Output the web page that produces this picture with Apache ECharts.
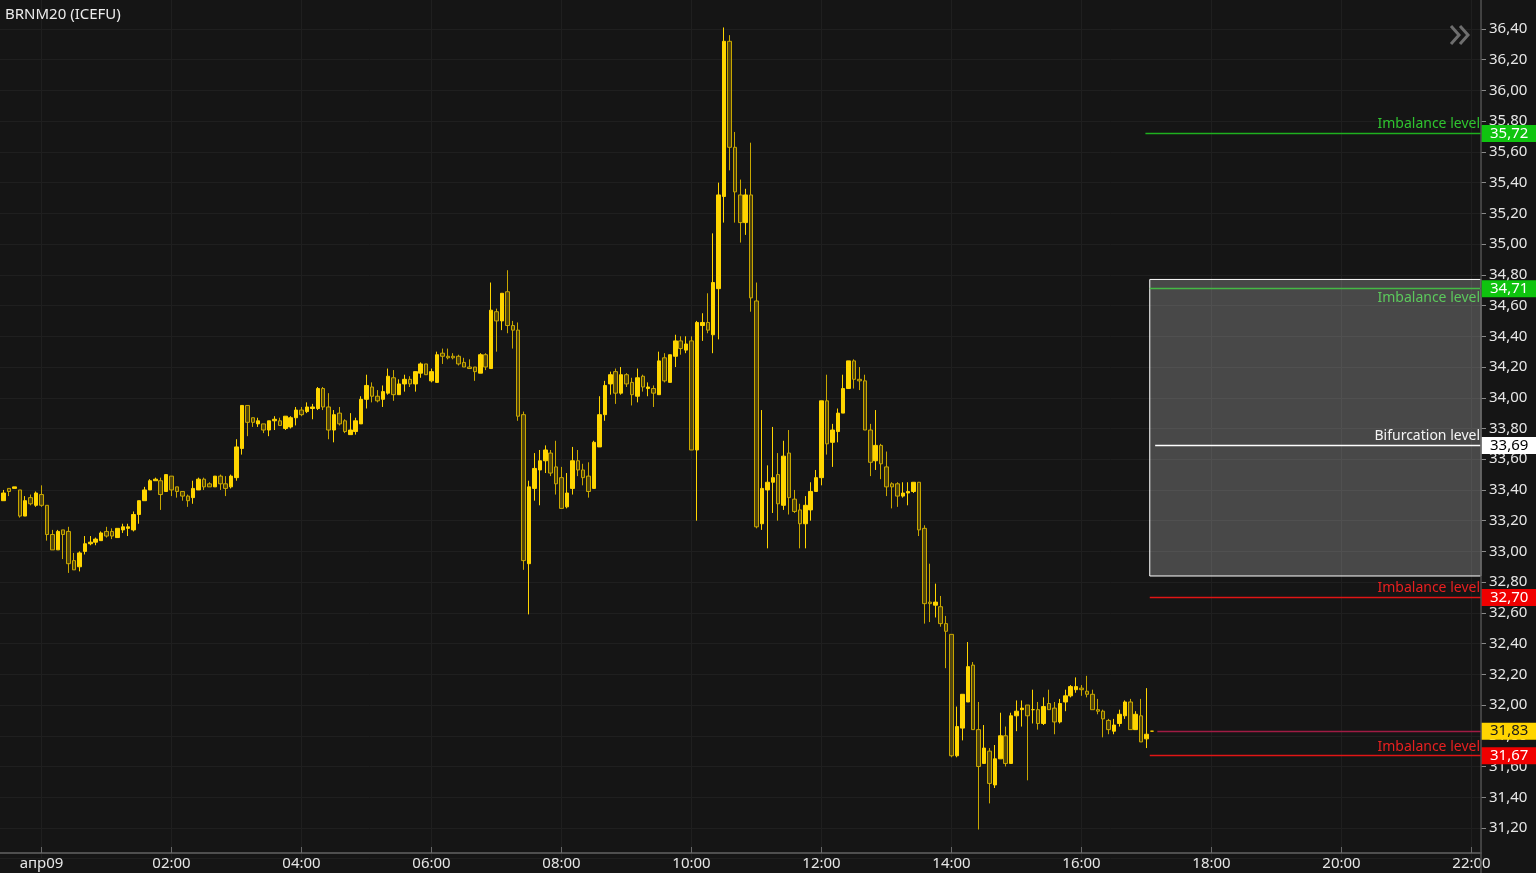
<!DOCTYPE html>
<html><head><meta charset="utf-8">
<script src="https://cdn.jsdelivr.net/npm/echarts@6/dist/echarts.min.js"></script>
<style>html,body{margin:0;padding:0;background:#151515;overflow:hidden}#c{width:1536px;height:873px}</style>
</head><body><div id="c"></div>
<script>
// ---- data ----
const title = 'BRNM20 (ICEFU)';
const firstBar = '-00:35';          // first 5-minute bar: 23:25 of the previous day
const barMinutes = 5;
const open = [33.33,33.41,33.41,33.40,33.23,33.35,33.30,33.37,33.30,33.11,33.01,33.14,33.13,32.94,32.90,33.00,33.05,33.06,33.07,33.13,33.13,33.09,33.14,33.15,33.14,33.24,33.33,33.40,33.46,33.46,33.39,33.49,33.42,33.39,33.36,33.35,33.40,33.47,33.44,33.42,33.49,33.44,33.42,33.48,33.67,33.95,33.87,33.83,33.83,33.79,33.85,33.85,33.80,33.81,33.87,33.92,33.91,33.93,33.93,34.06,33.94,33.79,33.90,33.85,33.76,33.78,33.83,33.99,34.07,34.01,33.99,34.03,34.13,34.02,34.09,34.12,34.09,34.16,34.22,34.11,34.10,34.29,34.27,34.27,34.27,34.23,34.20,34.20,34.16,34.28,34.19,34.56,34.50,34.69,34.47,34.44,33.89,32.92,33.41,33.53,33.59,33.64,33.55,33.48,33.29,33.41,33.59,33.53,33.49,33.41,33.68,33.89,34.09,34.17,34.03,34.15,34.10,34.01,34.14,34.06,34.06,34.02,34.26,34.10,34.27,34.37,34.31,34.37,33.66,34.47,34.49,34.41,34.71,35.31,36.32,35.63,35.32,35.14,35.32,34.63,33.18,33.40,33.45,33.50,33.30,33.64,33.34,33.27,33.18,33.27,33.39,33.48,33.98,33.71,33.78,33.90,34.06,34.24,34.12,34.11,33.79,33.59,33.69,33.55,33.44,33.44,33.36,33.38,33.39,33.45,33.15,32.67,32.65,32.64,32.53,32.46,31.67,31.85,32.02,32.26,31.84,31.62,31.70,31.48,31.65,31.80,31.62,31.93,31.97,32.00,31.97,31.97,31.88,32.01,31.98,31.89,32.02,32.06,32.10,32.11,32.09,32.07,31.97,31.96,31.90,31.83,31.88,31.93,32.02,31.84,31.93,31.78,31.83];
const close = [33.38,33.39,33.42,33.23,33.33,33.31,33.38,33.30,33.11,33.01,33.13,33.11,32.92,32.88,32.99,33.05,33.06,33.08,33.12,33.10,33.10,33.15,33.16,33.16,33.24,33.33,33.40,33.46,33.47,33.37,33.50,33.40,33.39,33.36,33.33,33.41,33.47,33.42,33.42,33.49,33.44,33.41,33.49,33.68,33.95,33.84,33.84,33.85,33.79,33.85,33.86,33.82,33.88,33.87,33.92,33.89,33.94,33.94,34.06,33.94,33.79,33.89,33.83,33.78,33.79,33.85,33.99,34.08,34.01,33.98,34.04,34.14,34.02,34.09,34.12,34.09,34.17,34.22,34.15,34.17,34.28,34.27,34.26,34.26,34.22,34.20,34.19,34.17,34.28,34.20,34.57,34.50,34.68,34.47,34.44,33.88,32.94,33.42,33.54,33.59,33.66,33.51,33.44,33.28,33.38,33.59,33.53,33.48,33.39,33.71,33.89,34.08,34.15,34.03,34.15,34.09,34.02,34.13,34.07,34.07,34.03,34.24,34.11,34.28,34.37,34.32,34.35,33.66,34.49,34.49,34.44,34.75,35.32,36.32,35.63,35.34,35.14,35.32,34.65,33.16,33.41,33.45,33.48,33.31,33.62,33.35,33.26,33.18,33.30,33.39,33.48,33.98,33.70,33.79,33.90,34.06,34.24,34.12,34.11,33.79,33.58,33.69,33.57,33.42,33.42,33.36,33.38,33.39,33.45,33.14,32.66,32.66,32.67,32.53,32.48,31.67,31.86,32.07,32.25,31.84,31.60,31.72,31.49,31.65,31.80,31.62,31.93,31.96,31.98,31.93,31.97,31.88,31.99,31.97,31.89,32.01,32.06,32.12,32.12,32.10,32.07,31.97,31.96,31.91,31.84,31.87,31.94,32.02,31.84,31.94,31.76,31.81,31.83];
const high = [33.40,33.41,33.42,33.40,33.36,33.37,33.39,33.43,33.30,33.14,33.14,33.14,33.16,32.99,33.00,33.10,33.10,33.09,33.13,33.16,33.15,33.15,33.18,33.18,33.26,33.33,33.42,33.47,33.48,33.48,33.50,33.49,33.42,33.39,33.37,33.46,33.48,33.48,33.45,33.49,33.50,33.49,33.50,33.73,33.95,33.95,33.87,33.87,33.83,33.85,33.88,33.87,33.88,33.88,33.94,33.94,33.97,33.96,34.07,34.07,34.03,33.92,33.94,33.86,33.90,33.87,34.01,34.15,34.10,34.05,34.08,34.19,34.18,34.12,34.15,34.14,34.17,34.23,34.22,34.19,34.30,34.32,34.32,34.29,34.28,34.26,34.25,34.20,34.29,34.29,34.75,34.58,34.68,34.83,34.50,34.49,33.91,33.46,33.64,33.66,33.69,33.66,33.72,33.55,33.51,33.68,33.66,33.57,33.58,33.72,34.01,34.11,34.17,34.19,34.20,34.16,34.13,34.19,34.15,34.10,34.08,34.30,34.29,34.28,34.41,34.40,34.40,34.40,34.50,34.55,34.68,35.07,35.40,36.41,36.36,35.73,35.42,35.36,35.66,34.75,33.92,33.56,33.81,33.64,33.72,33.79,33.40,33.31,33.36,33.45,33.53,33.98,34.15,33.83,33.93,34.15,34.24,34.25,34.20,34.15,33.83,33.92,33.70,33.65,33.45,33.45,33.45,33.45,33.45,33.45,33.17,32.92,32.79,32.71,32.58,32.46,31.99,32.07,32.41,32.28,32.02,31.87,31.72,31.74,31.95,31.86,31.95,32.03,32.03,32.00,32.10,32.02,32.05,32.10,32.02,32.04,32.10,32.13,32.18,32.13,32.19,32.10,32.04,31.97,31.91,31.91,31.97,32.03,32.04,31.96,32.04,32.11,31.83];
const low = [33.33,33.36,33.41,33.22,33.23,33.30,33.29,33.29,33.07,33.01,33.01,32.95,32.86,32.88,32.87,32.98,33.04,33.04,33.07,33.09,33.08,33.09,33.12,33.10,33.13,33.18,33.33,33.40,33.46,33.27,33.39,33.36,33.35,33.33,33.29,33.31,33.40,33.40,33.42,33.42,33.40,33.36,33.41,33.46,33.63,33.75,33.81,33.81,33.77,33.75,33.79,33.82,33.79,33.80,33.82,33.88,33.90,33.86,33.92,33.92,33.73,33.71,33.82,33.77,33.76,33.76,33.83,33.93,33.97,33.97,33.94,34.02,33.98,34.02,34.04,34.07,34.04,34.13,34.15,34.10,34.10,34.22,34.25,34.25,34.21,34.20,34.19,34.11,34.16,34.18,34.19,34.30,34.44,34.42,34.32,33.85,32.88,32.59,33.33,33.30,33.51,33.49,33.37,33.28,33.28,33.37,33.49,33.43,33.35,33.41,33.68,33.85,34.02,33.96,34.02,34.07,33.95,33.97,34.04,34.01,33.94,34.02,34.10,34.10,34.20,34.28,34.29,33.66,33.20,34.37,34.42,34.29,34.38,35.14,35.48,35.14,35.01,35.06,34.56,33.15,33.14,33.02,33.25,33.20,33.27,33.24,33.25,33.02,33.02,33.20,33.39,33.43,33.63,33.55,33.71,33.90,34.06,34.06,34.05,33.79,33.49,33.53,33.47,33.36,33.28,33.29,33.35,33.30,33.38,33.10,32.53,32.54,32.57,32.51,32.24,31.66,31.66,31.77,32.02,31.84,31.19,31.62,31.36,31.46,31.65,31.60,31.62,31.83,31.86,31.51,31.88,31.84,31.87,31.97,31.81,31.88,31.96,32.05,32.08,32.06,32.05,31.97,31.94,31.79,31.81,31.81,31.86,31.91,31.84,31.84,31.76,31.72,31.83];

const levelValues = [35.72, 34.71, 33.69, 32.70, 31.67];
const levelNames  = ['Imbalance level', 'Imbalance level', 'Bifurcation level', 'Imbalance level', 'Imbalance level'];
const levelStart  = ['16:59', '17:03', '17:08', '17:03', '17:03'];
const lastPrice = 31.83;
const lastPriceStart = '17:10';
const balanceRange = [34.77, 32.84];
const balanceStart = '17:03';
const balanceName = 'Balance';

const axisMinPrice = 31.0, axisMaxPrice = 36.6, priceStep = 0.2;
const axisMinHour = -2, hourStep = 2;
const dayLabel = 'апр09';

// ---- helpers ----
function toHours(s){ const neg = s[0]==='-'; const t = s.replace('-','').split(':'); const h = (+t[0]) + (+t[1])/60; return neg ? -h : h; }
const firstHour = toHours(firstBar);
const times = open.map((_, i) => firstHour + i*barMinutes/60);
const candles = open.map((o, i) => [times[i], o, close[i], low[i], high[i]]);
const fmtPrice = v => v.toFixed(2).replace('.', ',');

// layout: 1 hour = 65px, 00:00 at x=41.5
const pxPerHour = 65, zeroX = 41.5, axisX = 1481;
const gridLeft = zeroX + axisMinHour*pxPerHour;
const axisMaxHour = axisMinHour + (axisX - gridLeft)/pxPerHour;

const levelStyles = [
  {line:'#1fb01f', text:'#2fc42f', badge:'#0fc40f', badgeText:'#ffffff', pos:'insideEndTop'},
  {line:'#45b845', text:'#5cc85c', badge:'#0fc40f', badgeText:'#ffffff', pos:'insideEndBottom'},
  {line:'#ffffff', text:'#f4f4f4', badge:'#ffffff', badgeText:'#000000', pos:'insideEndTop'},
  {line:'#e01515', text:'#e82020', badge:'#f00000', badgeText:'#ffffff', pos:'insideEndTop'},
  {line:'#e01515', text:'#e82020', badge:'#f00000', badgeText:'#ffffff', pos:'insideEndTop'}
];
const lastPriceLine = '#a01c44';
const FONT = '"Noto Sans", "DejaVu Sans", sans-serif';

const HIDDEN = {color:'rgba(0,0,0,0)', width:1, type:'solid'};
function labelLine(v, start, lbl){
  return [{coord:[toHours(start), v], lineStyle:HIDDEN, label:lbl}, {coord:[axisMaxHour, v], lineStyle:HIDDEN, label:lbl}];
}
function badgeLabel(v, bg, fg){
  return {show:true, position:'end', distance:0, formatter:fmtPrice(v), backgroundColor:bg, color:fg, fontSize:15, fontFamily:FONT,
    padding:[1,2,0,9], width:44, height:16, lineHeight:16, align:'left', opacity:1};
}
const markLines = [];
markLines.push(labelLine(lastPrice, lastPriceStart, badgeLabel(lastPrice, '#ffd400', '#1a1a1a')));
levelValues.forEach((v, i) => {
  const st = levelStyles[i];
  markLines.push(labelLine(v, levelStart[i], badgeLabel(v, st.badge, st.badgeText)));
  markLines.push(labelLine(v, levelStart[i],
    {show:true, position:st.pos, formatter:levelNames[i], color:st.text, fontSize:14, fontFamily:FONT, distance:[1,2], opacity:1}));
});

const baseGraphic = [
  {id:'yline', type:'line', z:10, shape:{x1:axisX, y1:0, x2:axisX, y2:873}, style:{stroke:'#4f4f4f', lineWidth:1.5}},
  {id:'chev1', type:'polyline', z:10, shape:{points:[[1451,26],[1459,35],[1451,44]]}, style:{stroke:'#6e6e6e', lineWidth:3, fill:null}},
  {id:'chev2', type:'polyline', z:10, shape:{points:[[1460,26],[1468,35],[1460,44]]}, style:{stroke:'#6e6e6e', lineWidth:3, fill:null}}
];

const chart = echarts.init(document.getElementById('c'), null, {renderer:'canvas'});
chart.setOption({
  backgroundColor:'#151515',
  animation:false,
  textStyle:{fontFamily:FONT},
  title:{text:title, left:0, top:2, textStyle:{color:'#ececec', fontSize:15, fontWeight:'normal', fontFamily:FONT}},
  grid:{left:gridLeft, right:1536-axisX, top:-1.73, bottom:14.3, containLabel:false, outerBoundsMode:'none'},
  xAxis:{
    type:'value', min:axisMinHour, max:axisMaxHour, interval:hourStep,
    offset:-5.7,
    axisLine:{show:true, onZero:false, lineStyle:{color:'#4f4f4f', width:2}},
    axisTick:{show:true, inside:true, length:6, lineStyle:{color:'#6a6a6a'}},
    axisLabel:{color:'#e6e6e6', fontSize:15, fontFamily:FONT, margin:3, hideOverlap:false,
      formatter: v => { if (Math.abs(v) < 1e-9) return dayLabel; const h = ((Math.round(v)%24)+24)%24; return String(h).padStart(2,'0') + ':00'; }},
    splitLine:{show:true, lineStyle:{color:'#1f1f1f', width:1}}
  },
  yAxis:{
    type:'value', position:'right', min:axisMinPrice, max:axisMaxPrice, interval:priceStep, scale:true,
    axisLine:{show:false, onZero:false},
    axisTick:{show:true, length:5, lineStyle:{color:'#8a8a8a'}},
    axisLabel:{color:'#e6e6e6', fontSize:15, fontFamily:FONT, margin:8, showMinLabel:false, showMaxLabel:false, formatter: fmtPrice},
    splitLine:{show:true, lineStyle:{color:'#1f1f1f', width:1}}
  },
  series:[{
    type:'candlestick',
    data:candles,
    barWidth:4,
    clip:false,
    itemStyle:{color:'#ffd500', color0:'rgba(150,125,0,0.45)', borderColor:'#ffd500', borderColor0:'#c8a700', borderWidth:1},
    markArea:{
      silent:true,
      itemStyle:{color:'rgba(255,255,255,0.22)', borderColor:'#ffffff', borderWidth:1},
      label:{show:true, position:'insideBottomRight', distance:[10,8], color:'#f2f2f2', fontSize:15, fontFamily:FONT},
      data:[[{name:balanceName, coord:[toHours(balanceStart), balanceRange[0]]}, {coord:[axisMaxHour, balanceRange[1]]}]]
    },
    markLine:{silent:true, symbol:['none','none'], animation:false, precision:2, z:6, data:markLines}
  }],
  graphic:baseGraphic
});

// level lines, positioned through the chart's own scales
function levelLineGraphic(id, v, start, color){
  const y = Math.round(chart.convertToPixel({yAxisIndex:0}, v) - 0.5) + 0.5;
  const x0 = chart.convertToPixel({xAxisIndex:0}, toHours(start));
  const x1 = chart.convertToPixel({xAxisIndex:0}, axisMaxHour);
  return {id, type:'line', z:4, silent:true, shape:{x1:x0, y1:y, x2:x1, y2:y}, style:{stroke:color, lineWidth:1.5}};
}
const levelGraphic = levelValues.map((v, i) => levelLineGraphic('lvl'+i, v, levelStart[i], levelStyles[i].line));
levelGraphic.push(levelLineGraphic('last', lastPrice, lastPriceStart, lastPriceLine));
chart.setOption({graphic: baseGraphic.concat(levelGraphic)});
</script></body></html>
